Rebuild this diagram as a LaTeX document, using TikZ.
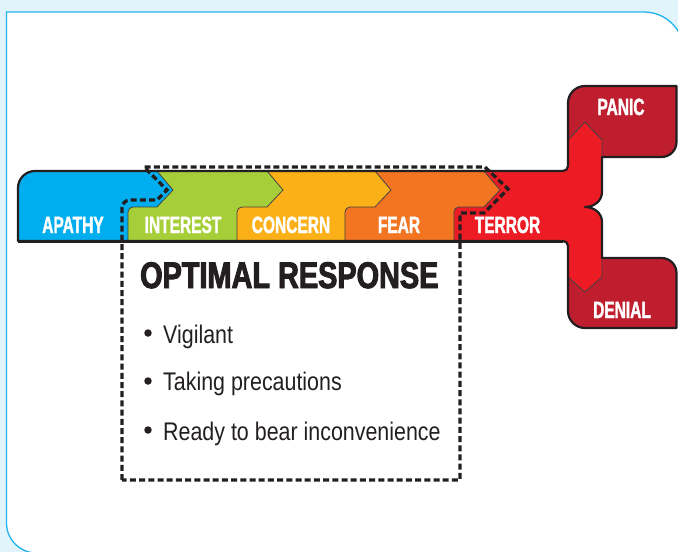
\documentclass[tikz,border=0pt]{standalone}
\usepackage{fontspec}
\newfontfamily\lblfont[FakeStretch=0.66,BoldFeatures={FakeBold=1.5}]{Liberation Sans}
\newfontfamily\ttlfont[FakeStretch=0.78,BoldFeatures={FakeBold=2.6}]{Liberation Sans}
\newfontfamily\bodyfont[FakeStretch=0.84]{Liberation Sans}
\definecolor{cBg}{HTML}{E1F4FC}
\definecolor{cPanel}{HTML}{1FB4E9}
\definecolor{cBlue}{HTML}{00AEEF}
\definecolor{cGreen}{HTML}{A6CE39}
\definecolor{cConcern}{HTML}{FCB017}
\definecolor{cFear}{HTML}{F37421}
\definecolor{cTerror}{HTML}{ED1C24}
\definecolor{cDark}{HTML}{BE1E2D}
\definecolor{cInk}{HTML}{231F20}
\tikzset{
  lbl/.style={anchor=base, text=white, font=\lblfont\bfseries\fontsize{23.5}{23.5}\selectfont, inner sep=0pt},
  ttl/.style={anchor=base west, text=cInk, font=\ttlfont\bfseries\fontsize{37}{37}\selectfont, inner sep=0pt},
  bodytext/.style={anchor=base west, text=cInk, font=\bodyfont\fontsize{25.5}{25.5}\selectfont, inner sep=0pt},
  bulletdot/.style={circle, fill=cInk, minimum size=7.5pt, inner sep=0pt},
  segline/.style={draw=cInk!85, line width=0.8pt},
  outline/.style={draw=cInk, line width=2.2pt, line join=round},
  dashbox/.style={draw=cInk, line width=3.3pt, dash pattern=on 6pt off 3.2pt},
}
\begin{document}
\begin{tikzpicture}[x=1pt,y=-1pt]
\useasboundingbox (0,0) rectangle (678,552);
\fill[cBg] (0,0) rectangle (678,552);
% panel
\filldraw[fill=white, draw=cPanel, line width=1.3pt]
  (6.5,523) -- (6.5,12) -- (644,12) .. controls (666.1,12) and (684,29.9) .. (684,52)
  -- (684,553) -- (36.5,553) .. controls (19.9,553) and (6.5,539.6) .. (6.5,523) -- cycle;
% dark boxes
\fill[cDark] (568,157) -- (568,103) .. controls (568,93.6) and (575.6,86) .. (585,86)
  -- (676.5,86) -- (676.5,142) .. controls (676.5,150.3) and (669.8,157) .. (661.5,157) -- cycle;
\fill[cDark] (568,258) -- (661.5,258) .. controls (669.8,258) and (676.5,264.7) .. (676.5,273)
  -- (676.5,328) -- (585,328) .. controls (575.6,328) and (568,320.4) .. (568,311) -- cycle;
% terror region
\fill[cTerror] (454,241) -- (454,212) .. controls (454,209.2) and (456.2,207) .. (459,207)
  -- (484,207) -- (500,190) -- (484,171) -- (563,171) .. controls (565.8,171) and (568,168.8) .. (568,166)
  -- (568,140) -- (585,122) -- (602,140) -- (602,192)
  .. controls (602,201) and (594,207) .. (585,207) .. controls (594,207) and (602,213) .. (602,222)
  -- (602,277) -- (585,292) -- (568,277) -- (568,246) .. controls (568,243.2) and (565.8,241) .. (563,241) -- cycle;
\draw[segline] (568,157) -- (568,140) -- (585,122) -- (602,140) -- (602,157);
\draw[segline] (568,258) -- (568,277) -- (585,292) -- (602,277) -- (602,258);
% segments
\fill[cBlue] (18,241) -- (18,188) .. controls (18,178.6) and (25.6,171) .. (35,171)
  -- (157,171) -- (173,190) -- (157,207) -- (133,207) .. controls (130.2,207) and (128,209.2) .. (128,212) -- (128,241) -- cycle;
\fill[cGreen] (128,241) -- (128,212) .. controls (128,209.2) and (130.2,207) .. (133,207) -- (157,207) -- (173,190) -- (157,171)
  -- (267,171) -- (283,190) -- (267,207) -- (242,207) .. controls (239.2,207) and (237,209.2) .. (237,212) -- (237,241) -- cycle;
\fill[cConcern] (237,241) -- (237,212) .. controls (237,209.2) and (239.2,207) .. (242,207) -- (267,207) -- (283,190) -- (267,171)
  -- (375,171) -- (391,190) -- (375,207) -- (350,207) .. controls (347.2,207) and (345,209.2) .. (345,212) -- (345,241) -- cycle;
\fill[cFear] (345,241) -- (345,212) .. controls (345,209.2) and (347.2,207) .. (350,207) -- (375,207) -- (391,190) -- (375,171)
  -- (484,171) -- (500,190) -- (484,207) -- (459,207) .. controls (456.2,207) and (454,209.2) .. (454,212) -- (454,241) -- cycle;
% segment boundaries
\foreach \v/\t in {128/173, 237/283, 345/391, 454/500}{
  \draw[segline] (\v,241) -- (\v,212) .. controls (\v,209.2) and (\v+2.2,207) .. (\v+5,207)
    -- (\t-16,207) -- (\t,190) -- (\t-16,171);
}
% outline
\draw[outline] (18,241) -- (18,188) .. controls (18,178.6) and (25.6,171) .. (35,171)
  -- (563,171) .. controls (565.8,171) and (568,168.8) .. (568,166)
  -- (568,103) .. controls (568,93.6) and (575.6,86) .. (585,86)
  -- (676.5,86) -- (676.5,142) .. controls (676.5,150.3) and (669.8,157) .. (661.5,157)
  -- (602,157) -- (602,192)
  .. controls (602,201) and (594,207) .. (585,207) .. controls (594,207) and (602,213) .. (602,222)
  -- (602,258) -- (661.5,258) .. controls (669.8,258) and (676.5,264.7) .. (676.5,273)
  -- (676.5,328) -- (585,328) .. controls (575.6,328) and (568,320.4) .. (568,311)
  -- (568,246) .. controls (568,243.2) and (565.8,241) .. (563,241) -- cycle;
\draw[draw=cInk, line width=3pt] (18,241) -- (563,241);
% dashed box
\draw[dashbox] (122,480) -- (122,208) .. controls (122,203.6) and (125.6,200) .. (130,200)
  -- (157,200) -- (167,190) -- (144,167) -- (485,167) -- (508,189) -- (484,213) -- (460,213) -- (460,480) -- cycle;
% labels
\node[lbl] (apathy) at (73,233) {APATHY};
\node[lbl] (interest) at (183,233) {INTEREST};
\node[lbl] (concern) at (291,233) {CONCERN};
\node[lbl] (fear) at (399,233) {FEAR};
\node[lbl] (terror) at (507.5,233) {TERROR};
\node[lbl] (panic) at (621,115) {PANIC};
\node[lbl] (denial) at (622,318) {DENIAL};
% optimal response
\node[ttl] (title) at (140,288) {OPTIMAL RESPONSE};
\node[bulletdot] (b1) at (148,333) {};
\node[bulletdot] (b2) at (148,381) {};
\node[bulletdot] (b3) at (148,430) {};
\node[bodytext] (t1) at (163,343) {Vigilant};
\node[bodytext] (t2) at (163,390) {Taking precautions};
\node[bodytext] (t3) at (163,440) {Ready to bear inconvenience};
\end{tikzpicture}
\end{document}
